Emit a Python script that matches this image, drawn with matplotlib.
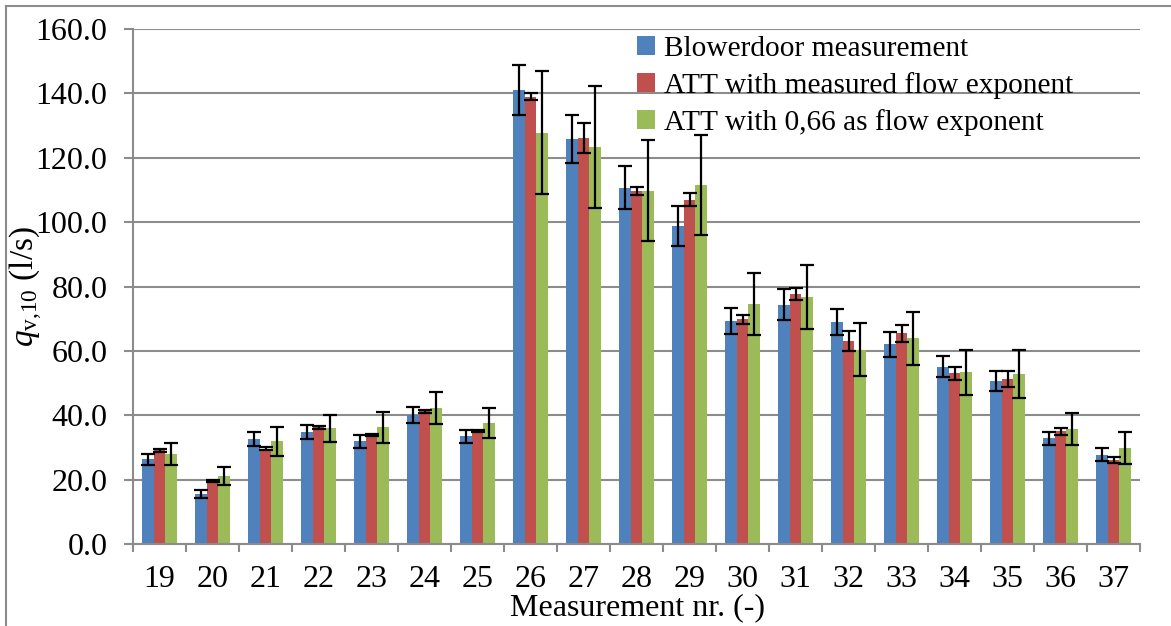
import matplotlib
matplotlib.use("Agg")
import matplotlib.pyplot as plt
import numpy as np
from matplotlib.lines import Line2D

categories = [str(c) for c in range(19, 38)]
blower = [26.3, 15.6, 32.7, 34.8, 31.9, 40.2, 33.5, 141.0, 125.8, 110.7, 98.8,
          69.2, 74.4, 69.0, 62.0, 55.1, 50.7, 32.8, 27.8]
blower_err = [1.75, 1.2, 2.25, 2.15, 2.1, 2.5, 2.05, 7.7, 7.5, 6.7, 6.3,
              4.1, 4.9, 4.1, 3.9, 3.2, 3.1, 2.1, 1.9]
att_meas = [29.1, 19.7, 29.6, 36.2, 33.8, 41.2, 35.1, 139.0, 126.2, 109.6, 107.0,
            69.8, 77.7, 63.1, 65.4, 53.0, 51.3, 35.0, 26.2]
att_meas_err = [0.5, 0.3, 0.4, 0.4, 0.3, 0.4, 0.4, 1.2, 4.7, 1.3, 2.0,
                1.3, 1.9, 3.0, 2.6, 2.0, 2.5, 1.0, 0.9]
att_066 = [28.0, 21.1, 31.9, 35.9, 36.2, 42.2, 37.5, 127.8, 123.4, 109.8, 111.6,
           74.6, 76.7, 60.4, 63.9, 53.3, 52.8, 35.8, 29.8]
att_066_err = [3.4, 2.9, 4.5, 4.3, 4.9, 4.9, 4.7, 19.1, 18.9, 15.8, 15.6,
               9.7, 10.0, 8.2, 8.2, 6.9, 7.45, 5.0, 4.9]
series_labels = ["Blowerdoor measurement", "ATT with measured flow exponent",
                 "ATT with 0,66 as flow exponent"]
yticks = [0, 20, 40, 60, 80, 100, 120, 140, 160]

plt.rcParams['font.family'] = ['Liberation Serif', 'DejaVu Serif']
plt.rcParams['mathtext.fontset'] = 'custom'
plt.rcParams['mathtext.rm'] = 'Liberation Serif'
plt.rcParams['mathtext.it'] = 'Liberation Serif:italic'

W, H = 1171, 626
fig = plt.figure(figsize=(W / 100, H / 100), dpi=100)
ax = fig.add_axes([133 / W, 1 - 544 / H, (1140 - 133) / W, (544 - 29) / H])

colors = ['#4F81BD', '#C0504D', '#9BBB59']
grid_c = '#8C8C8C'
x = np.arange(len(categories))
bw = 0.223
data = [(blower, blower_err), (att_meas, att_meas_err), (att_066, att_066_err)]
for k, ((vals, errs), col, lab) in enumerate(zip(data, colors, series_labels)):
    pos = x + (k - 1) * bw
    ax.bar(pos, vals, width=bw, color=col, label=lab, zorder=2)
    ax.errorbar(pos, vals, yerr=errs, fmt='none', ecolor='black', elinewidth=1.6,
                capsize=4.8, capthick=1.6, zorder=3)

ax.set_xlim(-0.5, len(categories) - 0.5)
ax.set_ylim(0, 160)
ax.set_yticks(yticks)
ax.set_yticklabels([f"{v:.1f}" for v in yticks])
ax.yaxis.grid(True, color=grid_c, linewidth=1.5, zorder=0)
ax.set_axisbelow(True)
ax.set_xticks(x)
ax.set_xticklabels(categories)
ax.set_xticks(np.arange(-0.5, len(categories)), minor=True)
ax.tick_params(axis='x', which='major', length=0, pad=15, labelsize=23)
ax.tick_params(axis='x', which='minor', length=6, width=1.5, color=grid_c, direction='out')
ax.tick_params(axis='y', which='major', length=6.5, width=1.5, color=grid_c, pad=12, labelsize=23)
for s in ['top', 'right']:
    ax.spines[s].set_visible(False)
for s in ['left', 'bottom']:
    ax.spines[s].set_color(grid_c)
    ax.spines[s].set_linewidth(1.5)

ax.set_ylabel(r'$q_{\mathrm{v{,}10}}$ (l/s)', fontsize=24, labelpad=-7)
fig.text(638 / W, 1 - 615 / H, 'Measurement nr. (-)', fontsize=23,
         ha='center', va='baseline')

leg = fig.legend(loc='upper left', bbox_to_anchor=(637 / W, 1 - 36 / H), frameon=False,
                 fontsize=21.2, handlelength=0.6, handleheight=0.6, handletextpad=0.3,
                 labelspacing=0.34, borderpad=0, borderaxespad=0)

# figure border (left and top)
fig.add_artist(Line2D([6 / W, 6 / W], [0, 1 - 6 / H], transform=fig.transFigure,
                      color=grid_c, linewidth=1.5))
fig.add_artist(Line2D([6 / W, 1], [1 - 6 / H, 1 - 6 / H], transform=fig.transFigure,
                      color=grid_c, linewidth=1.5))

fig.savefig('out.png', dpi=100)
